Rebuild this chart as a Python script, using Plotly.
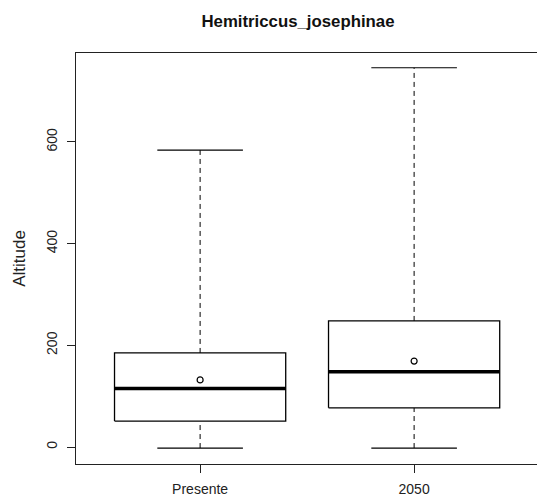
import plotly.graph_objects as go

# === data ===
groups = ["Presente", "2050"]
lower = [-2, -2]
q1 = [51, 77]
median = [115, 148]
q3 = [185, 248]
upper = [584, 746]
means = [132, 169]

y_ticks = [0, 200, 400, 600]

BOX_HALF = 0.4
CAP_HALF = 0.2

fig = go.Figure()

box_x, box_y = [], []
med_x, med_y = [], []
wh_x, wh_y = [], []
cap_x, cap_y = [], []
for i, g in enumerate(groups):
    x = i + 1
    box_x += [x - BOX_HALF, x + BOX_HALF, x + BOX_HALF, x - BOX_HALF, x - BOX_HALF, None]
    box_y += [q1[i], q1[i], q3[i], q3[i], q1[i], None]
    med_x += [x - BOX_HALF, x + BOX_HALF, None]
    med_y += [median[i], median[i], None]
    wh_x += [x, x, None, x, x, None]
    wh_y += [q3[i], upper[i], None, lower[i], q1[i], None]
    cap_x += [x - CAP_HALF, x + CAP_HALF, None, x - CAP_HALF, x + CAP_HALF, None]
    cap_y += [upper[i], upper[i], None, lower[i], lower[i], None]

fig.add_trace(go.Scatter(x=wh_x, y=wh_y, mode="lines",
                         line=dict(color="black", width=1, dash="5px,4px"),
                         showlegend=False, hoverinfo="skip"))
fig.add_trace(go.Scatter(x=cap_x, y=cap_y, mode="lines",
                         line=dict(color="black", width=1.2),
                         showlegend=False, hoverinfo="skip"))
fig.add_trace(go.Scatter(x=box_x, y=box_y, mode="lines",
                         line=dict(color="black", width=1.3),
                         fill="toself", fillcolor="white",
                         showlegend=False, hoverinfo="skip"))
fig.add_trace(go.Scatter(x=med_x, y=med_y, mode="lines",
                         line=dict(color="black", width=3.5),
                         showlegend=False, hoverinfo="skip"))
fig.add_trace(go.Scatter(x=[1, 2], y=means, mode="markers",
                         marker=dict(symbol="circle-open", size=6, color="black",
                                     line=dict(width=1.2)),
                         showlegend=False))

# plot frame runs a little past the right edge of the window, as in the original
W = 545
font = "Liberation Sans, Arial, sans-serif"
fig.update_layout(
    width=W, height=501,
    margin=dict(l=76, r=0, t=53, b=37, autoexpand=False),
    paper_bgcolor="white", plot_bgcolor="white",
    font=dict(family=font, size=14, color="#222"),
    title=dict(text="<b>Hemitriccus_josephinae</b>", x=298 / W, xanchor="center",
               y=1 - 21 / 501, yanchor="middle", font=dict(size=16.8, color="#111")),
    xaxis=dict(range=[0.42, 0.42 + (W - 76) / 214], tickvals=[1, 2], ticktext=groups,
               showgrid=False, zeroline=False, showline=True, mirror=True,
               linecolor="#222", linewidth=1.2, ticks="outside", ticklen=8,
               tickcolor="#222", ticklabelstandoff=4, automargin=False),
    yaxis=dict(range=[-33.4, 775], tickvals=y_ticks, tickangle=-90,
               showgrid=False, zeroline=False, showline=True,
               linecolor="#222", linewidth=1.2, ticks="outside", ticklen=8,
               tickcolor="#222", ticklabelstandoff=4, automargin=False,
               title=dict(text="Altitude", standoff=14)),
)

fig.write_html("out.html", config={"displayModeBar": False},
               post_script="document.body.style.margin='0';document.body.style.overflow='hidden';")
